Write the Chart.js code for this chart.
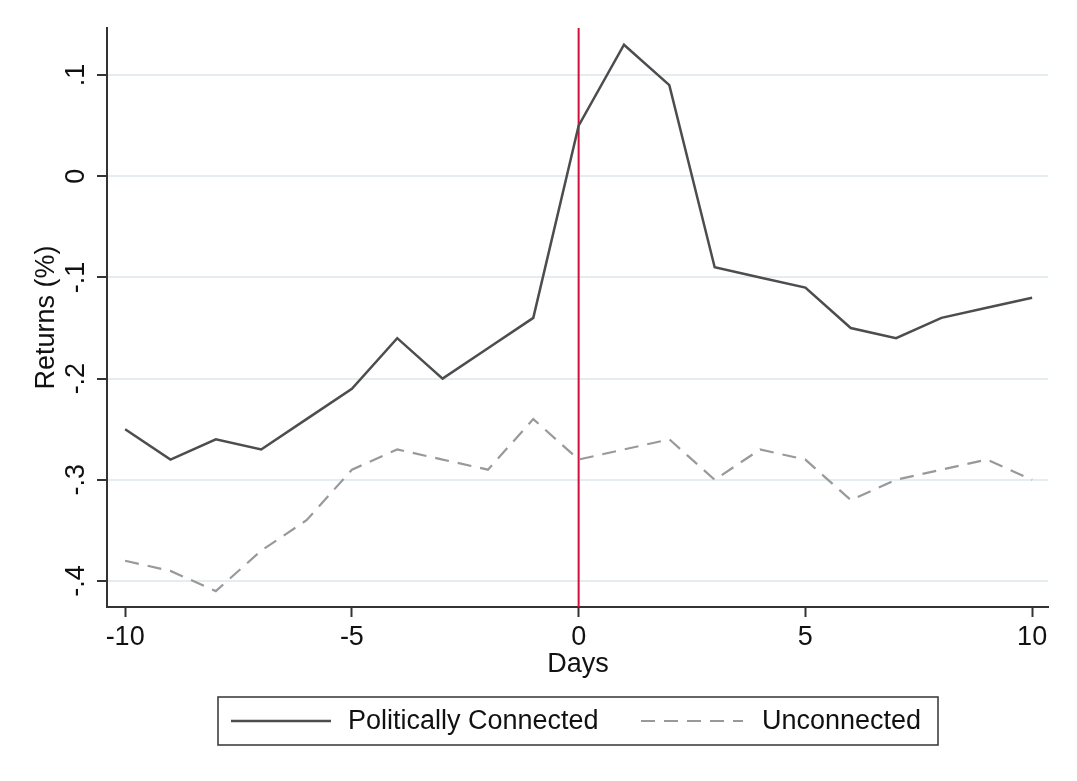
<!DOCTYPE html>
<html>
<head>
<meta charset="utf-8">
<script src="https://cdn.jsdelivr.net/npm/chart.js@4"></script>
<style>
  html, body { margin: 0; padding: 0; background: #fff; }
  #wrap { width: 1077px; height: 781px; }
</style>
</head>
<body>
<div id="wrap"><canvas id="returns-chart" width="1077" height="781"></canvas></div>
<script>
// event window, days around announcement
const days = [-10, -9, -8, -7, -6, -5, -4, -3, -2, -1, 0, 1, 2, 3, 4, 5, 6, 7, 8, 9, 10];

const connectedReturns = [-0.25, -0.28, -0.26, -0.27, -0.24, -0.21, -0.16, -0.20, -0.17, -0.14,
    0.05, 0.13, 0.09, -0.09, -0.10, -0.11, -0.15, -0.16, -0.14, -0.13, -0.12];

const unconnectedReturns = [-0.38, -0.39, -0.41, -0.37, -0.34, -0.29, -0.27, -0.28, -0.29, -0.24,
    -0.28, -0.27, -0.26, -0.30, -0.27, -0.28, -0.32, -0.30, -0.29, -0.28, -0.30];

const seriesNames = ['Politically Connected', 'Unconnected'];

const xTicks = [-10, -5, 0, 5, 10];
const yTicks = [-0.4, -0.3, -0.2, -0.1, 0, 0.1];
const yTickLabels = ['-.4', '-.3', '-.2', '-.1', '0', '.1'];

const xTitle = 'Days';
const yTitle = 'Returns (%)';

const FONT = 'Arial, "Liberation Sans", Helvetica, sans-serif';
const FONT_SIZE = 27;

const toPoints = function(values){
    let res = [];
    for (let i = 0; i < days.length; i++) {
        res.push({ x: days[i], y: values[i] });
    }
    return res;
};

// red vertical line at day 0, rotated y labels, titles, boxed legend
const extrasPlugin = {
    id: 'extras',
    beforeDatasetsDraw(chart){
        let ctx = chart.ctx;
        let area = chart.chartArea;
        let x0 = chart.scales.x.getPixelForValue(0);
        ctx.save();
        ctx.strokeStyle = '#d0103a';
        ctx.lineWidth = 2;
        ctx.beginPath();
        ctx.moveTo(x0, area.top);
        ctx.lineTo(x0, area.bottom);
        ctx.stroke();
        ctx.restore();
    },
    afterDraw(chart){
        let ctx = chart.ctx;
        let yScale = chart.scales.y;
        let area = chart.chartArea;
        ctx.save();
        ctx.fillStyle = '#111';
        ctx.font = FONT_SIZE + 'px ' + FONT;
        ctx.textAlign = 'center';
        ctx.textBaseline = 'middle';
        for (let i = 0; i < yTicks.length; i++) {
            let py = yScale.getPixelForValue(yTicks[i]);
            ctx.save();
            ctx.translate(77, py);
            ctx.rotate(-Math.PI / 2);
            ctx.fillText(yTickLabels[i], 0, 0);
            ctx.restore();
        }

        // axis titles
        ctx.fillText(xTitle, 578, 665);
        ctx.save();
        ctx.translate(47, (area.top + area.bottom) / 2);
        ctx.rotate(-Math.PI / 2);
        ctx.fillText(yTitle, 0, 0);
        ctx.restore();

        // legend box
        let box = { left: 218, top: 697, right: 938, bottom: 745 };
        let midY = (box.top + box.bottom) / 2;
        ctx.strokeStyle = '#333';
        ctx.lineWidth = 1.5;
        ctx.strokeRect(box.left, box.top, box.right - box.left, box.bottom - box.top);

        let items = [
            { x1: 231, x2: 331, tx: 348, ds: chart.data.datasets[0] },
            { x1: 641, x2: 743, tx: 762, ds: chart.data.datasets[1] }
        ];
        ctx.textAlign = 'left';
        for (const item of items) {
            ctx.strokeStyle = item.ds.borderColor;
            ctx.lineWidth = item.ds.borderWidth;
            ctx.setLineDash(item.ds.borderDash || []);
            ctx.beginPath();
            ctx.moveTo(item.x1, midY);
            ctx.lineTo(item.x2, midY);
            ctx.stroke();
            ctx.setLineDash([]);
            ctx.fillStyle = '#111';
            ctx.fillText(item.ds.label, item.tx, midY + 1);
        }
        ctx.restore();
    }
};

let chartData = {
    datasets: [{
        label: seriesNames[0],
        data: toPoints(connectedReturns),
        borderColor: '#4d4d4d',
        borderWidth: 2.5,
        pointRadius: 0,
        tension: 0,
        fill: false
    }, {
        label: seriesNames[1],
        data: toPoints(unconnectedReturns),
        borderColor: '#999999',
        borderWidth: 2.2,
        borderDash: [14, 9],
        pointRadius: 0,
        tension: 0,
        fill: false
    }]
};

let options = {
    responsive: false,
    animation: false,
    layout: { padding: { left: 0, top: 28, right: 29, bottom: 0 } },
    plugins: {
        legend: { display: false },
        tooltip: { enabled: false }
    },
    scales: {
        x: {
            type: 'linear',
            min: -10.4,
            max: 10.35,
            afterBuildTicks: function(scale){
                scale.ticks = xTicks.map(v => ({ value: v }));
            },
            afterFit: function(scale){
                scale.height = 174;
            },
            grid: {
                drawOnChartArea: false,
                drawTicks: true,
                tickLength: 10,
                tickColor: '#333',
                tickWidth: 2
            },
            border: { display: true, color: '#333', width: 2 },
            ticks: {
                color: '#111',
                padding: 4,
                maxRotation: 0,
                font: { family: FONT, size: FONT_SIZE },
                callback: v => String(v)
            },
            title: { display: false }
        },
        y: {
            type: 'linear',
            min: -0.4257,
            max: 0.1465,
            afterBuildTicks: function(scale){
                scale.ticks = yTicks.map(v => ({ value: v }));
            },
            afterFit: function(scale){
                scale.width = 107;
            },
            grid: {
                color: '#e4eef0',
                lineWidth: 2,
                drawTicks: true,
                tickLength: 10,
                tickColor: '#333',
                tickWidth: 2
            },
            border: { display: true, color: '#333', width: 2 },
            ticks: { display: false },
            title: { display: false }
        }
    }
};

let ctx = document.getElementById('returns-chart');
let lineChart = new Chart(ctx, {
    type: 'line',
    data: chartData,
    options,
    plugins: [extrasPlugin]
});
</script>
</body>
</html>
